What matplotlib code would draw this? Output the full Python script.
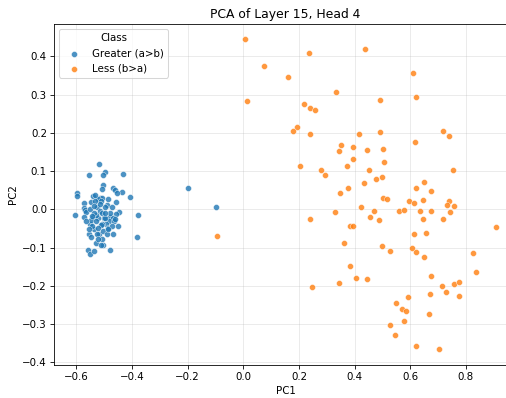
import matplotlib.pyplot as plt

# PCA projections of the attention head outputs, per class
greater_pc1 = [-0.520, -0.555, -0.499, -0.503, -0.432, -0.505, -0.509, -0.467, -0.463, -0.437,
               -0.455, -0.597, -0.597, -0.407, -0.542, -0.515, -0.507, -0.521, -0.513, -0.573,
               -0.547, -0.458, -0.491, -0.526, -0.573, -0.568, -0.566, -0.515, -0.509, -0.448,
               -0.456, -0.604, -0.378, -0.571, -0.539, -0.521, -0.502, -0.479, -0.469, -0.482,
               -0.495, -0.552, -0.537, -0.509, -0.488, -0.452, -0.465, -0.556, -0.547, -0.517,
               -0.508, -0.468, -0.531, -0.505, -0.513, -0.560, -0.552, -0.536, -0.479, -0.384,
               -0.533, -0.497, -0.479, -0.548, -0.530, -0.512, -0.497, -0.473, -0.543, -0.524,
               -0.503, -0.527, -0.491, -0.555, -0.528, -0.550, -0.536, -0.488, -0.532, -0.566,
               -0.515, -0.473, -0.498, -0.461, -0.537, -0.485, -0.521, -0.545, -0.200, -0.097]
greater_pc2 = [0.119, 0.090, 0.098, 0.091, 0.093, 0.064, 0.053, 0.057, 0.051, 0.045,
               0.042, 0.044, 0.035, 0.033, 0.036, 0.030, 0.030, 0.026, 0.023, 0.017,
               0.018, 0.020, 0.012, 0.007, 0.003, -0.002, -0.008, -0.005, -0.010, -0.007,
               -0.011, -0.016, -0.016, -0.021, -0.019, -0.023, -0.023, -0.020, -0.023, -0.031,
               -0.038, -0.039, -0.052, -0.037, -0.050, -0.044, -0.030, -0.064, -0.073, -0.064,
               -0.077, -0.064, -0.087, -0.093, -0.093, -0.107, -0.117, -0.110, -0.105, -0.073,
               0.023, 0.007, -0.009, -0.028, -0.031, -0.042, -0.023, -0.044, -0.044, -0.050,
               -0.057, -0.065, -0.065, -0.052, -0.016, 0.002, -0.009, 0.026, 0.038, -0.030,
               0.013, 0.007, -0.010, -0.026, 0.009, -0.052, -0.078, -0.017, 0.057, 0.007]

less_pc1 = [0.006, 0.235, 0.073, 0.161, 0.332, 0.013, 0.218, 0.241, 0.256, 0.193,
            0.178, 0.239, 0.352, 0.343, 0.394, 0.205, 0.278, 0.372, 0.394,
            0.436, 0.610, 0.490, 0.619, 0.719, 0.739, 0.417, 0.491, 0.616, 0.445,
            0.503, 0.504, 0.453,
            0.295, 0.348, 0.377, 0.330, 0.241, 0.385, 0.394, 0.361, 0.384, 0.345, 0.246,
            0.752, 0.498, 0.478, 0.432, 0.649, 0.622, 0.674, 0.502, 0.515, 0.595,
            0.613, 0.646, 0.738, 0.733, 0.758, 0.424, 0.469, 0.561, 0.576, 0.636,
            0.673, 0.743, 0.457, 0.486, 0.645, 0.719, 0.908, 0.615, 0.657, 0.497,
            0.527, 0.606, 0.621, 0.651, 0.824, 0.836, 0.405, 0.446, 0.675, 0.715,
            0.756, 0.776, 0.730, 0.775, 0.670, 0.592, 0.548, 0.570, 0.583, 0.667,
            0.577, 0.526, 0.545, 0.619, 0.704, -0.096]
less_pc2 = [0.444, 0.408, 0.374, 0.346, 0.306, 0.283, 0.274, 0.264, 0.260, 0.216,
            0.204, 0.198, 0.169, 0.152, 0.164, 0.112, 0.103, 0.113, 0.131,
            0.418, 0.355, 0.286, 0.293, 0.205, 0.192, 0.197, 0.201, 0.176, 0.154,
            0.158, 0.124, 0.103,
            0.091, 0.043, 0.055, -0.006, -0.026, -0.044, -0.043, -0.087, -0.147, -0.193, -0.204,
            0.103, 0.084, 0.078, 0.070, 0.071, 0.055, 0.048, 0.030, 0.026, 0.023,
            0.017, 0.025, 0.023, 0.011, 0.008, 0.005, -0.004, -0.004, -0.002, -0.005,
            -0.003, -0.007, -0.019, -0.029, -0.026, -0.024, -0.047, -0.064, -0.062, -0.096,
            -0.110, -0.100, -0.111, -0.125, -0.113, -0.164, -0.179, -0.181, -0.174, -0.200,
            -0.194, -0.191, -0.217, -0.227, -0.222, -0.230, -0.245, -0.261, -0.265, -0.273,
            -0.292, -0.302, -0.329, -0.357, -0.366, -0.069]

class_labels = ['Greater (a>b)', 'Less (b>a)']

dpi = 74
fig = plt.figure(figsize=(506 / dpi, 398 / dpi), dpi=dpi)
# right edge runs just past the canvas
ax = fig.add_axes([0.107, 0.083, 0.915, 0.857])

ax.scatter(greater_pc1, greater_pc2, s=34, color='#1f77b4', alpha=0.8,
           edgecolor='white', linewidth=0.5, label=class_labels[0], zorder=3)
ax.scatter(less_pc1, less_pc2, s=34, color='#ff7f0e', alpha=0.8,
           edgecolor='white', linewidth=0.5, label=class_labels[1], zorder=3)

ax.grid(True, alpha=0.3)
ax.set_axisbelow(True)
ax.set_xlim(-0.68, 0.984)
ax.set_title('PCA of Layer 15, Head 4')
ax.set_xlabel('PC1')
ax.set_ylabel('PC2')
ax.legend(title='Class', loc='upper left')

fig.savefig('out.png', dpi=dpi)
